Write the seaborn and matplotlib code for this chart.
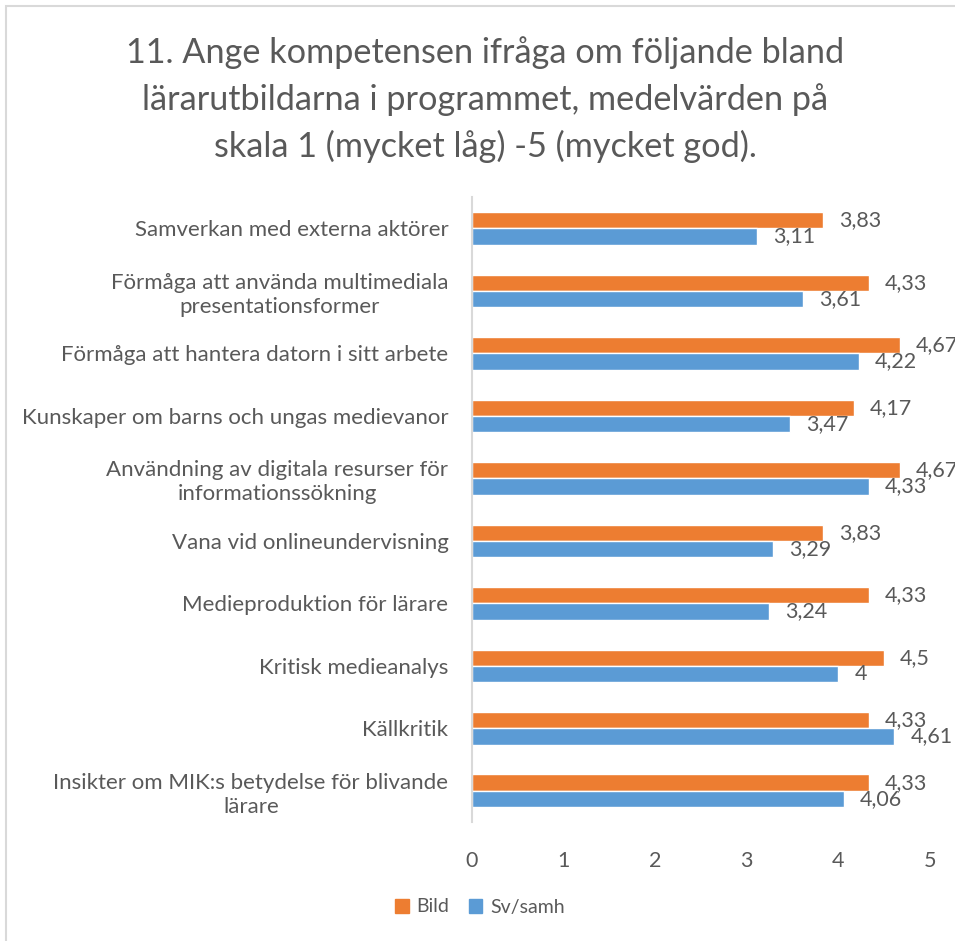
import matplotlib
matplotlib.use("Agg")
import matplotlib.pyplot as plt
import seaborn as sns
import pandas as pd
from matplotlib.patches import Rectangle

categories = [
    "Samverkan med externa aktörer",
    "Förmåga att använda multimediala\npresentationsformer",
    "Förmåga att hantera datorn i sitt arbete",
    "Kunskaper om barns och ungas medievanor",
    "Användning av digitala resurser för\ninformationssökning",
    "Vana vid onlineundervisning",
    "Medieproduktion för lärare",
    "Kritisk medieanalys",
    "Källkritik",
    "Insikter om MIK:s betydelse för blivande\nlärare",
]
bild = [3.83, 4.33, 4.67, 4.17, 4.67, 3.83, 4.33, 4.5, 4.33, 4.33]
svsamh = [3.11, 3.61, 4.22, 3.47, 4.33, 3.29, 3.24, 4.0, 4.61, 4.06]
series = ["Bild", "Sv/samh"]
xticks = [0, 1, 2, 3, 4, 5]
title = ("11. Ange kompetensen ifråga om följande bland\n"
         "lärarutbildarna i programmet, medelvärden på\n"
         "skala 1 (mycket låg) -5 (mycket god).")

colors = {"Bild": "#ED7D31", "Sv/samh": "#5B9BD5"}
TXT = "#595959"

df = pd.DataFrame({
    "Kategori": categories * 2,
    "Värde": bild + svsamh,
    "Serie": [series[0]] * len(categories) + [series[1]] * len(categories),
})

sns.set_theme(style="white")
plt.rcParams["font.family"] = ["Lato", "DejaVu Sans"]

W, H = 955, 941
fig = plt.figure(figsize=(W / 100, H / 100), dpi=100)
ax = fig.add_axes([472 / W, 1 - 822 / H, (930 - 472) / W, (822 - 197) / H])

sns.barplot(data=df, y="Kategori", x="Värde", hue="Serie", orient="h",
            palette=colors, width=0.52, saturation=1, ax=ax, legend=False,
            order=categories, hue_order=series)

for cont, vals in zip(ax.containers, [bild, svsamh]):
    for bar, v in zip(cont, vals):
        ax.annotate(f"{v:g}".replace(".", ","),
                    xy=(bar.get_width(), bar.get_y() + bar.get_height() / 2),
                    xytext=(16, 0), textcoords="offset pixels",
                    ha="left", va="center", fontsize=15.5, color=TXT,
                    annotation_clip=False)

ax.set_xlim(0, 5)
ax.set_xticks(xticks)
ax.set_xticklabels([str(t) for t in xticks])
ax.set_xlabel("")
ax.set_ylabel("")
for s in ["top", "right", "bottom"]:
    ax.spines[s].set_visible(False)
ax.spines["left"].set_color("#D9D9D9")
ax.spines["left"].set_linewidth(1.5)
ax.tick_params(axis="both", length=0, colors=TXT)
ax.tick_params(axis="x", pad=21, labelsize=15.5)
ax.tick_params(axis="y", pad=17, labelsize=16)
for lab in ax.get_yticklabels():
    lab.set_multialignment("center")
    lab.set_linespacing(1.25)
ax.grid(False)

fig.text(485 / W, 1 - 100 / H, title, ha="center", va="center",
         fontsize=24.7, color=TXT, linespacing=1.52, multialignment="center")

handles = [Rectangle((0, 0), 1, 1, color=colors[s]) for s in series]
fig.legend(handles, series, loc="center", bbox_to_anchor=(480 / W, 1 - 907 / H),
           ncol=2, frameon=False, handlelength=0.7, handleheight=0.7,
           handletextpad=0.4, columnspacing=1.0, fontsize=14,
           labelcolor=TXT)

fig.patches.append(Rectangle((6 / W, -0.1), 2, 0.1 + 1 - 6 / H,
                             transform=fig.transFigure, fill=False,
                             edgecolor="#D9D9D9", linewidth=1.5))

fig.savefig("out.png", dpi=100)
